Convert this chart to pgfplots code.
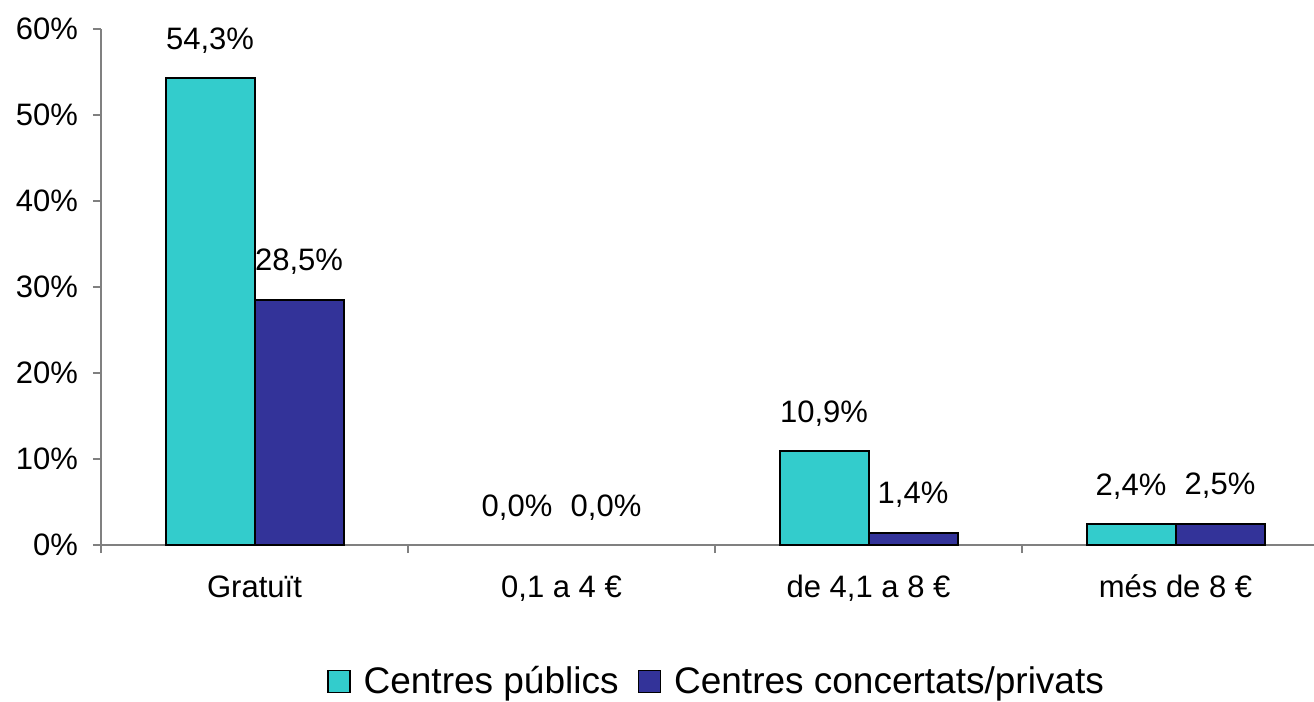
\documentclass[border=0pt]{standalone}
\usepackage{fontspec}
\setmainfont{Liberation Sans}
\usepackage{pgfplots}
\pgfplotsset{compat=1.18}

\definecolor{publics}{HTML}{33CCCC}
\definecolor{privats}{HTML}{333399}
\definecolor{axisgray}{HTML}{808080}

\begin{document}
\begin{tikzpicture}
\begin{axis}[
    scale only axis,
    width=606.5pt, height=258pt,
    xmin=-0.5, xmax=3.451,
    ymin=0, ymax=60,
    axis x line*=bottom, axis y line*=left,
    axis line style={-, draw=axisgray, line width=0.7pt},
    tick align=outside,
    major tick length=4pt, minor tick length=4pt,
    tick style={draw=axisgray, line width=0.7pt},
    xtick={0,1,2,3},
    xticklabels={Gratuït, {0,1 a 4 €}, {de 4,1 a 8 €}, {més de 8 €}},
    x tick style={draw=none},
    minor xtick={-0.5,0.5,1.5,2.5},
    minor x tick style={draw=axisgray, line width=0.7pt},
    ytick={0,10,20,30,40,50,60},
    yticklabels={0\%,10\%,20\%,30\%,40\%,50\%,60\%},
    ticklabel style={font=\fontsize{15.5}{18}\selectfont},
    yticklabel style={xshift=-4pt},
    xticklabel style={anchor=base, yshift=-22pt},
    ybar, bar width=44.5pt,
    /pgf/number format/assume math mode=true,
    nodes near coords={\pgfmathprintnumber[fixed,fixed zerofill,precision=1,use comma]{\pgfplotspointmeta}\%},
    every node near coord/.append style={anchor=base, inner sep=0pt, yshift=14.5pt,
        text=black, font=\fontsize{15.5}{18}\selectfont},
    legend columns=2,
    legend style={at={(0.5066,-0.265)}, anchor=center, draw=none,
        font=\fontsize{18.5}{22}\selectfont,
        nodes={inner sep=0pt},
        /tikz/every odd column/.append style={column sep=6.5pt},
        /tikz/every even column/.append style={column sep=9.5pt}},
    legend image code/.code={\draw[#1, draw=black, line width=0.75pt] (0pt,-5.5pt) rectangle (11pt,5.5pt);},
]
\addplot[fill=publics, draw=black, line width=1pt, bar shift=-22.25pt]
    coordinates {(0,54.3) (2,10.9) (3,2.4)};
\addlegendentry{Centres públics}
\addplot[fill=privats, draw=black, line width=1pt, bar shift=22.25pt]
    coordinates {(0,28.5) (2,1.4) (3,2.5)};
\addlegendentry{Centres concertats/privats}
% zero-height bars: only their labels show
\addplot[draw=none, fill=none, bar shift=-22.25pt, forget plot]
    coordinates {(1,0.0)};
\addplot[draw=none, fill=none, bar shift=22.25pt, forget plot]
    coordinates {(1,0.0)};
\coordinate (SW) at (rel axis cs:0,0);
\end{axis}
\pgfresetboundingbox
\path (SW) ++(-50.5pt,-78.5pt) rectangle ++(657pt,351pt);
\end{tikzpicture}
\end{document}
